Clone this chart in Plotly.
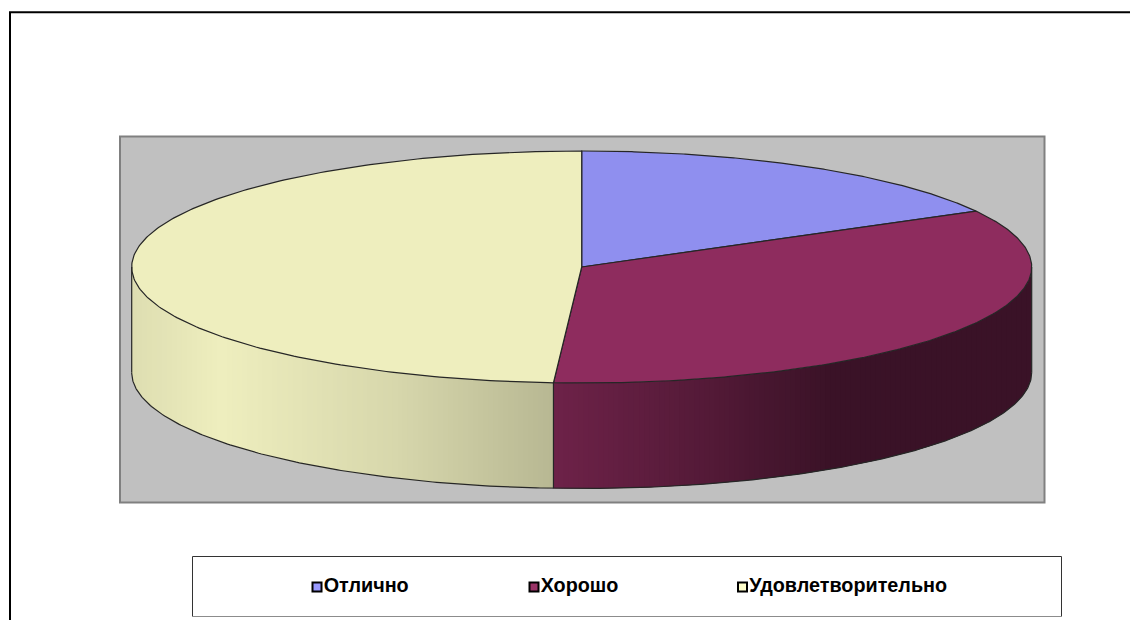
import numpy as np
import plotly.graph_objects as go

categories = ["Отлично", "Хорошо", "Удовлетворительно"]
values = [17, 34, 49]
top_colors = ["#8f8fef", "#8e2c5e", "#eeeebe"]
marker_colors = ["#9999ff", "#993366", "#ffffcc"]
# shading of the rim, left to right: (screen fraction across the pie, brightness)
rim_stops = [0.0, 0.10, 0.30, 0.47, 0.63, 0.78, 1.0]
rim_light = [0.93, 1.00, 0.90, 0.77, 0.60, 0.41, 0.41]

CX, CY, RX, RY, DEPTH = 581.7, 267.0, 450.0, 116.0, 105.5
EDGE = "#262626"


def px(a):
    return CX + RX * np.sin(a)


def py(a):
    return CY - RY * np.cos(a)


def shade(hex_color, k):
    rgb = [int(hex_color[i:i + 2], 16) for i in (1, 3, 5)]
    return "rgb({},{},{})".format(*[int(round(min(255, c * k))) for c in rgb])


fig = go.Figure()


def poly(xs, ys, color, line=None):
    fig.add_trace(go.Scatter(
        x=xs, y=ys, mode="lines", fill="toself", fillcolor=color,
        line=dict(color=line or color, width=1.2 if line else 0),
        hoverinfo="skip", showlegend=False))


def curve(xs, ys, width=1.2):
    fig.add_trace(go.Scatter(x=xs, y=ys, mode="lines",
                             line=dict(color=EDGE, width=width),
                             hoverinfo="skip", showlegend=False))


fractions = np.cumsum([0] + values) / sum(values)
angles = fractions * 2 * np.pi

# rim: only the front half is visible. Bands of equal screen width, each one
# running under the next so that no seams show between them.
for i, color in enumerate(top_colors):
    a0 = max(angles[i], np.pi / 2)
    a1 = min(angles[i + 1], 3 * np.pi / 2)
    if a1 <= a0:
        continue
    n = max(2, int(abs(px(a0) - px(a1)) / 5))
    sx = np.linspace(px(a0), px(a1), n + 1)
    grid = np.pi - np.arcsin(np.clip((sx - CX) / RX, -1, 1))
    grid[0], grid[-1] = a0, a1
    for k in range(n):
        g = np.linspace(grid[k], grid[min(k + 2, n)], 12)
        xs = np.r_[px(g), px(g)[::-1]]
        ys = np.r_[py(g), py(g)[::-1] + DEPTH]
        t = (px((grid[k] + grid[k + 1]) / 2) - (CX - RX)) / (2 * RX)
        poly(xs, ys, shade(color, np.interp(t, rim_stops, rim_light)))

# top faces
for i, color in enumerate(top_colors):
    g = np.linspace(angles[i], angles[i + 1], 240)
    poly(np.r_[CX, px(g), CX], np.r_[CY, py(g), CY], color, line=EDGE)

# rim outline
front = np.linspace(np.pi / 2, 3 * np.pi / 2, 360)
curve(px(front), py(front) + DEPTH)
for a in (np.pi / 2, 3 * np.pi / 2):
    curve([px(a), px(a)], [py(a), py(a) + DEPTH])
for a in angles[1:-1]:
    if np.pi / 2 < a < 3 * np.pi / 2:
        curve([px(a), px(a)], [py(a), py(a) + DEPTH])

# legend swatches and labels
legend_x = [317, 534, 742.5]
for name, color, lx in zip(categories, marker_colors, legend_x):
    fig.add_trace(go.Scatter(
        x=[lx], y=[587], mode="markers+text", text=["<b>" + name + "</b>"],
        textposition="middle right",
        textfont=dict(family="Liberation Sans, Arial, sans-serif", size=19.8, color="#000000"),
        marker=dict(symbol="square", size=9, color=color, line=dict(color="#000000", width=2)),
        hoverinfo="skip", showlegend=False))

shapes = [
    dict(type="rect", xref="x", yref="y", x0=120, y0=136.5, x1=1044.5, y1=502.5,
         fillcolor="#c0c0c0", line=dict(color="#808080", width=2), layer="below"),
    dict(type="rect", xref="x", yref="y", x0=192.5, y0=556.5, x1=1061.5, y1=616.5,
         fillcolor="#ffffff", line=dict(color="#333333", width=1), layer="below"),
    dict(type="line", xref="x", yref="y", x0=192, y0=616.5, x1=1062, y1=616.5,
         line=dict(color="#8c8c8c", width=1), layer="below"),
    dict(type="line", xref="x", yref="y", x0=9, y0=12.3, x1=1130, y1=12.3,
         line=dict(color="#000000", width=2), layer="below"),
    dict(type="line", xref="x", yref="y", x0=10, y0=12, x1=10, y1=620,
         line=dict(color="#000000", width=2), layer="below"),
]

fig.update_layout(
    width=1130, height=620, margin=dict(l=0, r=0, t=0, b=0),
    paper_bgcolor="#ffffff", plot_bgcolor="#ffffff", showlegend=False,
    shapes=shapes,
    xaxis=dict(range=[0, 1130], visible=False, fixedrange=True),
    yaxis=dict(range=[620, 0], visible=False, fixedrange=True),
)
fig.write_html("out.html", config={"displayModeBar": False},
               post_script="document.body.style.margin='0';document.body.style.overflow='hidden';")
